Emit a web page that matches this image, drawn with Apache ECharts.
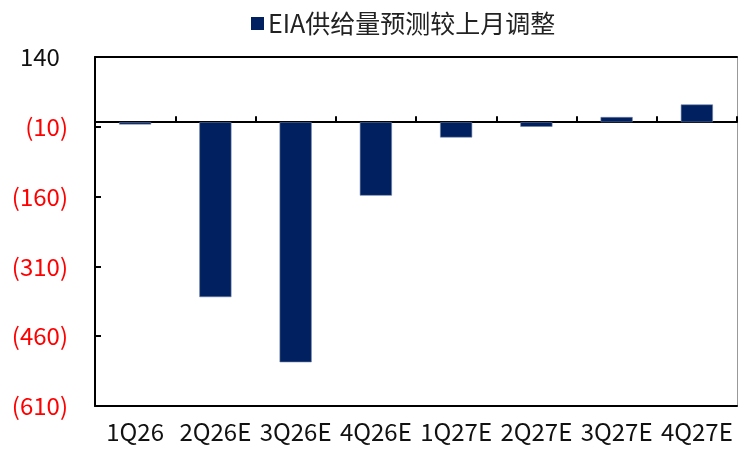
<!DOCTYPE html>
<html>
<head>
<meta charset="utf-8">
<script src="https://cdn.jsdelivr.net/npm/echarts@6/dist/echarts.min.js"></script>
<style>
  html, body { margin: 0; padding: 0; background: #fff; }
  #chart { width: 738px; height: 452px; }
</style>
</head>
<body>
<div id="chart"></div>
<script>
// Quarterly revision of the EIA supply forecast vs. the previous month
const categories = ['1Q26', '2Q26E', '3Q26E', '4Q26E', '1Q27E', '2Q27E', '3Q27E', '4Q27E'];
const revisions = [-5, -376, -516, -158, -33, -10, 11, 38];
const seriesName = 'EIA供给量预测较上月调整';
const yMin = -610;
const yMax = 140;
const yStep = 150;

const FONT = '"Noto Sans CJK SC", "Noto Sans", sans-serif';

// Accounting-style numbers: negatives in red parentheses, positives padded
function fmtValue(v) {
  const n = Math.round(v);
  if (n < 0) return '{neg|(' + Math.abs(n) + ')}';
  return '{pos|' + n + '}{pad|)}';
}

const chart = echarts.init(document.getElementById('chart'));
chart.setOption({
  animation: false,
  backgroundColor: '#fff',
  legend: {
    data: [seriesName],
    left: 246,
    top: 6,
    icon: 'rect',
    itemWidth: 13,
    itemHeight: 13,
    itemGap: 4,
    itemStyle: { borderWidth: 0 },
    textStyle: { fontFamily: FONT, fontSize: 25, color: '#222', padding: [0, 0, 0, -1] }
  },
  grid: { left: 95, right: 1, top: 57, bottom: 46, containLabel: false },
  xAxis: [
    {
      type: 'category',
      data: categories,
      axisLine: { onZero: true, lineStyle: { color: '#000', width: 2 } },
      axisTick: { show: true, inside: true, length: 6, lineStyle: { color: '#000', width: 2 } },
      axisLabel: { show: false },
      splitLine: { show: false }
    },
    {
      type: 'category',
      data: categories,
      position: 'bottom',
      axisLine: { onZero: false, lineStyle: { color: '#000', width: 2 } },
      axisTick: { show: false },
      axisLabel: { show: true, interval: 0, margin: 14, fontFamily: FONT, fontSize: 24, color: '#111' }
    },
    {
      type: 'category',
      data: categories,
      position: 'top',
      axisLine: { onZero: false, lineStyle: { color: '#000', width: 2 } },
      axisTick: { show: false },
      axisLabel: { show: false }
    }
  ],
  yAxis: [
    {
      type: 'value',
      min: yMin,
      max: yMax,
      interval: yStep,
      axisLine: { show: true, lineStyle: { color: '#000', width: 2 } },
      axisTick: { show: true, inside: true, length: 6, lineStyle: { color: '#000', width: 2 } },
      splitLine: { show: false },
      axisLabel: {
        margin: 27,
        formatter: fmtValue,
        rich: {
          neg: { color: '#ff0000', fontFamily: FONT, fontSize: 24 },
          pos: { color: '#111', fontFamily: FONT, fontSize: 24 },
          pad: { color: 'rgba(0,0,0,0)', fontFamily: FONT, fontSize: 24 }
        }
      }
    },
    {
      type: 'value',
      position: 'right',
      min: yMin,
      max: yMax,
      interval: yStep,
      axisLine: { show: true, lineStyle: { color: '#999', width: 1 } },
      axisTick: { show: false },
      axisLabel: { show: false },
      splitLine: { show: false }
    }
  ],
  series: [
    {
      name: seriesName,
      type: 'bar',
      xAxisIndex: 0,
      yAxisIndex: 0,
      data: revisions,
      barWidth: '40%',
      itemStyle: { color: '#002060', borderColor: '#6d7fa3', borderWidth: 0.6 }
    }
  ]
});
</script>
</body>
</html>
